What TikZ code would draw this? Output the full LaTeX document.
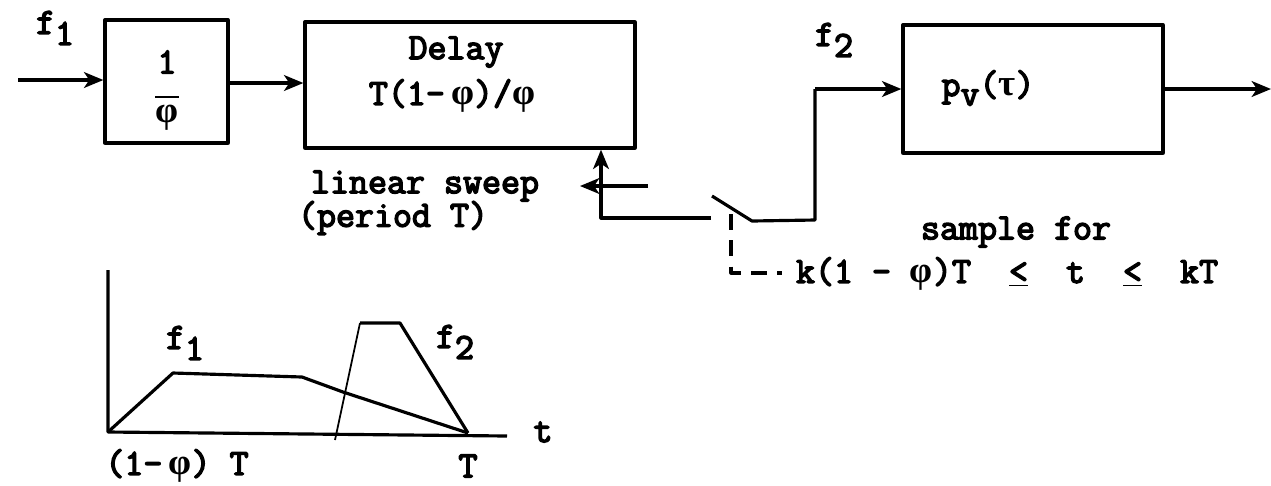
\documentclass[tikz,border=0pt]{standalone}
\usepackage{fontspec}
\newfontfamily\tw{Latin Modern Mono}[FakeBold=4]
\newfontfamily\grk{Liberation Serif}
\usetikzlibrary{arrows.meta}
\newcommand{\vphi}{{\grk\bfseries φ}}
\newcommand{\vtau}{{\grk\bfseries τ}}
\begin{document}
\begin{tikzpicture}[x=0.02cm,y=-0.02cm,line width=1.8pt,line join=round,
  blk/.style={draw,line width=1.9pt,inner sep=0pt},
  lbl/.style={font=\fontsize{21}{24}\selectfont\tw,inner sep=0pt},
  arr/.style={-{Stealth[length=11pt,width=9pt,inset=3pt]}},
  thinline/.style={line width=1pt},
  ctl/.style={line width=1.8pt,dash pattern=on 9pt off 6pt}]
\useasboundingbox (0,0) rectangle (1271,485);
% blocks
\node[blk,minimum width=2.46cm,minimum height=2.46cm] (b1) at (166.5,81.5) {};
\node[blk,minimum width=6.6cm,minimum height=2.52cm] (dl) at (470,85) {};
\node[blk,minimum width=5.2cm,minimum height=2.56cm] (pv) at (1033,89) {};
% block texts
\node[lbl] (one) at (167,62) {1};
\node[lbl] (phi) at (167,118) {\vphi};
\draw[line width=1.6pt] (155,97) coordinate (barL) -- (179,97) coordinate (barR);
\node[lbl] (dly) at (456,52) {Delay};
\node[lbl] (dlyf) at (452,96) {T(1-\,\vphi)/\vphi};
\node[lbl] (pvt) at (988,88) {p\raisebox{-0.6ex}{v}(\vtau)};
% labels
\node[lbl] (f1) at (55,28) {f\raisebox{-0.7ex}{1}};
\node[lbl] (f2) at (834,40) {f\raisebox{-0.7ex}{2}};
\node[lbl] (ls) at (425,186) {linear sweep};
\node[lbl] (per) at (393,218) {(period T)};
\node[lbl] (smp) at (1016,232) {sample for};
\node[lbl] (cond) at (1007,274) {k(1~-~\vphi)T~~\underline{<}~~t~~\underline{<}~~kT};
% signal path
\coordinate (in) at (18,80);
\draw[arr] (in) -- (in -| b1.west);
\draw[arr] (b1.east |- 0,83) coordinate (b1o) -- (b1o -| dl.west);
\coordinate (swL) at (711,218);
\coordinate (c1) at (601,218);
\draw[arr] (swL) -- (c1) -- (c1 |- dl.south);
\coordinate (sA) at (648,186);
\coordinate (sB) at (580,186);
\draw[arr] (sA) -- (sB);
\coordinate (sw1) at (712,196);
\coordinate (sw2) at (752,221);
\coordinate (sw3) at (815,220);
\coordinate (sw4) at (815,89);
\draw (sw1) -- (sw2) -- (sw3) -- (sw4);
\draw[arr] (sw4) -- (pv.west);
\coordinate (out) at (1271,89);
\draw[arr] (pv.east) -- (out);
% sampling control (dashed)
\coordinate (d1) at (731,214);
\coordinate (d2) at (731,273);
\coordinate (d3) at (782,273);
\draw[ctl] (d1) -- (d2) -- (d3);
% graph
\coordinate (O) at (108,432);
\coordinate (ytop) at (108,270);
\coordinate (xend) at (507,436);
\draw (ytop) -- (O) -- (xend);
\coordinate (p1) at (173,373);
\coordinate (p2) at (302,377);
\coordinate (p3) at (343,392);
\coordinate (Tp) at (468,433);
\draw (O) -- (p1) -- (p2) -- (p3) -- (Tp);
\coordinate (q0) at (335,440);
\coordinate (q1) at (360,323);
\coordinate (q2) at (400,323);
\draw[thinline] (q0) -- (q1);
\draw (q1) -- (q2) -- (Tp);
\node[lbl] (gf1) at (185,343) {f\raisebox{-0.7ex}{1}};
\node[lbl] (gf2) at (455,342) {f\raisebox{-0.7ex}{2}};
\node[lbl] (gt) at (543,432) {t};
\node[lbl] (gphi) at (177,466) {(1-\,\vphi) T};
\node[lbl] (gT) at (468,466) {T};
\end{tikzpicture}
\end{document}
